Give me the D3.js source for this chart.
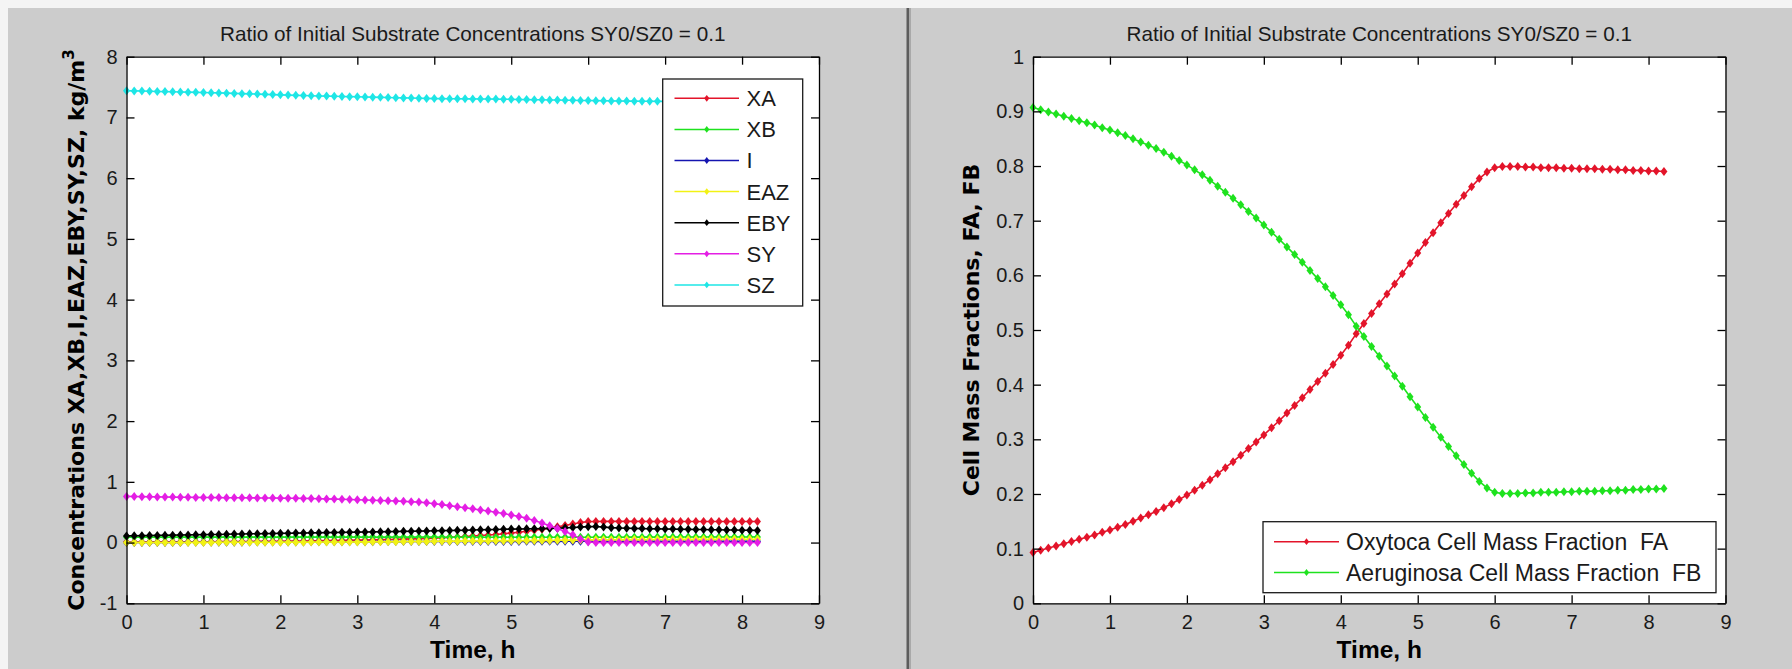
<!DOCTYPE html>
<html>
<head>
<meta charset="utf-8">
<script src="https://cdn.jsdelivr.net/npm/d3@7"></script>
<style>
  html, body { margin: 0; padding: 0; background: #cccccc; }
  svg { display: block; }
</style>
</head>
<body>
<svg id="fig" width="1792" height="669"></svg>
<script>
// ---- simulation output, sampled every 0.1 h ----
const time = [0,0.1,0.2,0.3,0.4,0.5,0.6,0.7,0.8,0.9,
  1,1.1,1.2,1.3,1.4,1.5,1.6,1.7,1.8,1.9,
  2,2.1,2.2,2.3,2.4,2.5,2.6,2.7,2.8,2.9,
  3,3.1,3.2,3.3,3.4,3.5,3.6,3.7,3.8,3.9,
  4,4.1,4.2,4.3,4.4,4.5,4.6,4.7,4.8,4.9,
  5,5.1,5.2,5.3,5.4,5.5,5.6,5.7,5.8,5.9,
  6,6.1,6.2,6.3,6.4,6.5,6.6,6.7,6.8,6.9,
  7,7.1,7.2,7.3,7.4,7.5,7.6,7.7,7.8,7.9,
  8,8.1,8.2];

// concentrations, kg/m3
const XA = [.0092,.0097,.0101,.0106,.0110,.0115,.0119,.0124,.0129,.0134,
  .0139,.0145,.0151,.0159,.0166,.0174,.0182,.0191,.0200,.0211,
  .0222,.0235,.0248,.0263,.0280,.0297,.0315,.0335,.0355,.0377,
  .0401,.0425,.0449,.0478,.0507,.0538,.0573,.0609,.0647,.0690,
  .0738,.0793,.0862,.0929,.0997,.1071,.1150,.1237,.1337,.1448,
  .1571,.1708,.1853,.2015,.2186,.2379,.2585,.2817,.3066,.3291,
  .3455,.3480,.3482,.3483,.3483,.3483,.3482,.3482,.3481,.3481,
  .3480,.3480,.3479,.3479,.3478,.3478,.3477,.3477,.3476,.3476,
  .3475,.3475,.3474];
const XB = [.0900,.0900,.0901,.0901,.0902,.0902,.0902,.0902,.0903,.0903,
  .0903,.0903,.0903,.0903,.0903,.0903,.0903,.0903,.0903,.0903,
  .0903,.0903,.0902,.0902,.0902,.0902,.0901,.0901,.0901,.0901,
  .0900,.0898,.0896,.0895,.0894,.0893,.0892,.0891,.0890,.0889,
  .0888,.0887,.0886,.0885,.0884,.0883,.0882,.0881,.0880,.0880,
  .0880,.0880,.0880,.0879,.0879,.0878,.0878,.0877,.0877,.0876,
  .0876,.0876,.0879,.0882,.0885,.0888,.0891,.0894,.0896,.0899,
  .0902,.0904,.0907,.0909,.0912,.0914,.0917,.0919,.0922,.0924,
  .0927,.0929,.0931];
const I = [.000,.000,.001,.001,.002,.002,.003,.003,.004,.004,
  .005,.005,.006,.006,.007,.007,.008,.008,.009,.009,
  .010,.010,.011,.011,.012,.012,.013,.013,.014,.014,
  .015,.015,.015,.016,.016,.016,.016,.017,.017,.017,
  .017,.017,.018,.018,.018,.018,.018,.019,.019,.019,
  .019,.019,.020,.020,.020,.020,.020,.021,.021,.021,
  .021,.021,.021,.021,.021,.021,.021,.021,.022,.022,
  .022,.022,.022,.022,.022,.022,.022,.022,.022,.022,
  .022,.022,.022];
const EAZ = [.000,.000,.000,.001,.001,.001,.002,.002,.002,.003,
  .003,.003,.004,.004,.004,.005,.005,.005,.006,.006,
  .006,.007,.007,.007,.008,.008,.009,.009,.010,.010,
  .011,.011,.012,.013,.014,.015,.016,.017,.018,.019,
  .020,.021,.022,.023,.024,.025,.026,.027,.028,.029,
  .030,.031,.032,.033,.034,.035,.037,.039,.041,.043,
  .045,.046,.047,.047,.048,.048,.049,.049,.050,.050,
  .051,.051,.052,.052,.052,.053,.053,.053,.054,.054,
  .054,.055,.055];
const EBY = [.110,.112,.114,.116,.118,.120,.122,.124,.126,.128,
  .130,.132,.134,.137,.140,.142,.144,.146,.148,.150,
  .152,.154,.156,.158,.160,.162,.164,.166,.168,.170,
  .172,.174,.176,.178,.180,.182,.185,.187,.189,.191,
  .194,.196,.198,.201,.204,.207,.210,.213,.216,.219,
  .222,.224,.226,.228,.230,.233,.237,.242,.248,.255,
  .262,.264,.255,.246,.240,.236,.233,.230,.228,.226,
  .224,.222,.220,.218,.216,.214,.212,.210,.208,.206,
  .204,.202,.200];
const SY = [.760,.758,.756,.754,.752,.750,.749,.747,.745,.744,
  .742,.741,.740,.739,.738,.737,.736,.735,.734,.733,
  .731,.730,.729,.727,.725,.722,.719,.716,.713,.709,
  .705,.700,.697,.693,.689,.684,.679,.673,.666,.655,
  .640,.625,.608,.590,.573,.555,.537,.519,.500,.478,
  .455,.430,.402,.365,.322,.278,.232,.183,.130,.060,
  .010,.000,.000,.000,.000,.000,.000,.000,.000,.000,
  .000,.000,.000,.000,.000,.000,.000,.000,.000,.000,
  .000,.000,.000];
const SZ = [7.440,7.437,7.434,7.431,7.428,7.425,7.422,7.419,7.416,7.413,
  7.410,7.407,7.404,7.400,7.396,7.392,7.388,7.384,7.380,7.376,
  7.372,7.368,7.364,7.360,7.357,7.354,7.351,7.348,7.345,7.342,
  7.340,7.337,7.334,7.331,7.328,7.325,7.322,7.319,7.316,7.313,
  7.310,7.309,7.308,7.307,7.306,7.305,7.304,7.303,7.302,7.300,
  7.298,7.296,7.294,7.292,7.290,7.288,7.286,7.284,7.282,7.280,
  7.278,7.276,7.274,7.272,7.270,7.269,7.268,7.267,7.266,7.265,
  7.264,7.263,7.262,7.261,7.260,7.259,7.258,7.257,7.256,7.255,
  7.254,7.253,7.252];

// cell mass fractions
const FA = [.093,.097,.101,.105,.109,.113,.117,.121,.125,.130,
  .134,.139,.144,.150,.156,.162,.168,.175,.182,.190,
  .198,.207,.216,.226,.237,.248,.259,.271,.283,.295,
  .308,.321,.334,.348,.362,.376,.391,.406,.421,.437,
  .454,.472,.493,.512,.530,.548,.566,.584,.603,.622,
  .641,.660,.678,.696,.713,.730,.746,.762,.777,.789,
  .797,.799,.799,.799,.798,.798,.797,.797,.797,.796,
  .796,.795,.795,.795,.794,.794,.793,.793,.792,.792,
  .791,.791,.790];
const FB = [.907,.903,.899,.895,.891,.887,.883,.879,.875,.870,
  .866,.861,.856,.850,.844,.838,.832,.825,.818,.810,
  .802,.793,.784,.774,.763,.752,.741,.729,.717,.705,
  .692,.679,.666,.652,.638,.624,.609,.594,.579,.563,
  .546,.528,.507,.488,.470,.452,.434,.416,.397,.378,
  .359,.340,.322,.304,.287,.270,.254,.238,.223,.211,
  .203,.201,.201,.201,.202,.202,.203,.203,.203,.204,
  .204,.205,.205,.205,.206,.206,.207,.207,.208,.208,
  .209,.209,.210];

// ---- labels and ticks ----
const titleText = "Ratio of Initial Substrate Concentrations SY0/SZ0 = 0.1";
const xLabelText = "Time, h";
const xTicks = [0,1,2,3,4,5,6,7,8,9];
const xTickLabels = ["0","1","2","3","4","5","6","7","8","9"];
const concTicks = [-1,0,1,2,3,4,5,6,7,8];
const concTickLabels = ["-1","0","1","2","3","4","5","6","7","8"];
const fracTicks = [0,0.1,0.2,0.3,0.4,0.5,0.6,0.7,0.8,0.9,1];
const fracTickLabels = ["0","0.1","0.2","0.3","0.4","0.5","0.6","0.7","0.8","0.9","1"];
const concNames = ["XA","XB","I","EAZ","EBY","SY","SZ"];
const concColors = ["#e3142a","#1ee21e","#1414b0","#f2f214","#000000","#e41ee4","#1ee6e6"];
const fracNames = ["Oxytoca Cell Mass Fraction  FA","Aeruginosa Cell Mass Fraction  FB"];
const fracColors = ["#e3142a","#1ee21e"];

// ---- figure layout ----
const W = 1792, H = 669;
const TOP = 56.7, BOTTOM = 603.3;
const SANS = "'Liberation Sans', Arial, Helvetica, sans-serif";
const WIDE_BOLD = "'DejaVu Sans', Verdana, sans-serif";

const svg = d3.select("#fig");

// window background, light frame edge and splitter between the two figures
svg.append("rect").attr("width", W).attr("height", H).attr("fill", "#cccccc");
svg.append("rect").attr("width", W).attr("height", 8).attr("fill", "#f4f4f4");
svg.append("rect").attr("width", 8).attr("height", H).attr("fill", "#f4f4f4");
svg.append("rect").attr("x", 906.5).attr("y", 8).attr("width", 2.5).attr("height", H - 8).attr("fill", "#5c5c5c");
svg.append("rect").attr("x", 909).attr("y", 8).attr("width", 2).attr("height", H - 8).attr("fill", "#a9a9a9");

function diamondPath(w, h) {
  return `M0,${-h}L${w},0L0,${h}L${-w},0Z`;
}

function drawPanel(cfg) {
  const g = svg.append("g");
  const x = d3.scaleLinear().domain([0, 9]).range([cfg.left, cfg.right]);
  const y = d3.scaleLinear().domain(cfg.yDomain).range([BOTTOM, TOP]);

  g.append("rect")
    .attr("x", cfg.left).attr("y", TOP)
    .attr("width", cfg.right - cfg.left).attr("height", BOTTOM - TOP)
    .attr("fill", "#ffffff");

  // series: line plus diamond markers, drawn in legend order
  cfg.series.forEach((values, k) => {
    const pts = time.map((t, i) => [t, values[i]]);
    const line = d3.line().x(d => x(d[0])).y(d => y(d[1]));
    g.append("path")
      .attr("d", line(pts))
      .attr("fill", "none")
      .attr("stroke", cfg.colors[k])
      .attr("stroke-width", 1.6)
      .attr("stroke-linejoin", "round");
    g.append("g").selectAll("path").data(pts).join("path")
      .attr("d", diamondPath(3.5, 4.5))
      .attr("transform", d => `translate(${x(d[0])},${y(d[1])})`)
      .attr("fill", cfg.colors[k]);
  });

  // box axes with inward ticks on all four sides
  const styleAxis = sel => {
    sel.attr("font-family", SANS).attr("font-size", 20);
    sel.select(".domain").attr("stroke", "#000").attr("stroke-width", 1.3);
    sel.selectAll(".tick line").attr("stroke", "#000").attr("stroke-width", 1.3);
    sel.selectAll(".tick text").attr("fill", "#1a1a1a");
  };
  g.append("g").attr("transform", `translate(0,${BOTTOM})`)
    .call(d3.axisBottom(x).tickValues(xTicks).tickFormat((d, i) => xTickLabels[i])
      .tickSizeInner(-8).tickSizeOuter(0).tickPadding(12))
    .call(styleAxis);
  g.append("g").attr("transform", `translate(0,${TOP})`)
    .call(d3.axisTop(x).tickValues(xTicks).tickFormat("")
      .tickSizeInner(-8).tickSizeOuter(0))
    .call(styleAxis);
  g.append("g").attr("transform", `translate(${cfg.left},0)`)
    .call(d3.axisLeft(y).tickValues(cfg.yTicks).tickFormat((d, i) => cfg.yTickLabels[i])
      .tickSizeInner(-8).tickSizeOuter(0).tickPadding(9))
    .call(styleAxis);
  g.append("g").attr("transform", `translate(${cfg.right},0)`)
    .call(d3.axisRight(y).tickValues(cfg.yTicks).tickFormat("")
      .tickSizeInner(-8).tickSizeOuter(0))
    .call(styleAxis);

  const cx = (cfg.left + cfg.right) / 2;
  const cy = (TOP + BOTTOM) / 2;

  g.append("text")
    .attr("x", cx).attr("y", 40.5)
    .attr("text-anchor", "middle")
    .attr("font-family", SANS).attr("font-size", 20.7)
    .attr("fill", "#1a1a1a")
    .text(titleText);

  g.append("text")
    .attr("x", cx).attr("y", 658)
    .attr("text-anchor", "middle")
    .attr("font-family", SANS).attr("font-size", 24.5).attr("font-weight", "bold")
    .attr("fill", "#000")
    .text(xLabelText);

  const yl = g.append("text")
    .attr("transform", `translate(${cfg.yLabelX},${cy}) rotate(-90)`)
    .attr("text-anchor", "middle")
    .attr("font-family", WIDE_BOLD).attr("font-size", 22).attr("font-weight", "bold")
    .attr("fill", "#000");
  yl.append("tspan").text(cfg.yLabel);
  if (cfg.yLabelSup) {
    yl.append("tspan").attr("font-size", 15).attr("dy", -10).text(cfg.yLabelSup);
  }

  // legend
  const L = cfg.legend;
  const lg = g.append("g");
  lg.append("rect")
    .attr("x", L.x).attr("y", L.y).attr("width", L.w).attr("height", L.h)
    .attr("fill", "#ffffff").attr("stroke", "#1a1a1a").attr("stroke-width", 1.3);
  cfg.names.forEach((name, k) => {
    const yy = L.firstRow + k * L.rowStep;
    lg.append("line")
      .attr("x1", L.lineX1).attr("x2", L.lineX2).attr("y1", yy).attr("y2", yy)
      .attr("stroke", cfg.colors[k]).attr("stroke-width", 1.5);
    lg.append("path")
      .attr("d", diamondPath(2.6, 3.4))
      .attr("transform", `translate(${(L.lineX1 + L.lineX2) / 2},${yy})`)
      .attr("fill", cfg.colors[k]);
    lg.append("text")
      .attr("x", L.textX).attr("y", yy + L.fontSize * 0.36)
      .attr("font-family", SANS).attr("font-size", L.fontSize)
      .attr("fill", "#1a1a1a")
      .style("white-space", "pre")
      .text(name);
  });
}

drawPanel({
  left: 126.5, right: 819,
  yDomain: [-1, 8],
  yTicks: concTicks, yTickLabels: concTickLabels,
  series: [XA, XB, I, EAZ, EBY, SY, SZ],
  colors: concColors, names: concNames,
  yLabel: "Concentrations XA,XB,I,EAZ,EBY,SY,SZ, kg/m", yLabelSup: "3",
  yLabelX: 84,
  legend: { x: 662.7, y: 79, w: 140, h: 227, firstRow: 98.3, rowStep: 31.1,
            lineX1: 674.5, lineX2: 739, textX: 746.5, fontSize: 22 }
});

drawPanel({
  left: 1033, right: 1725.5,
  yDomain: [0, 1],
  yTicks: fracTicks, yTickLabels: fracTickLabels,
  series: [FA, FB],
  colors: fracColors, names: fracNames,
  yLabel: "Cell Mass Fractions, FA, FB", yLabelSup: null,
  yLabelX: 979,
  legend: { x: 1263, y: 521.7, w: 453, h: 71, firstRow: 541.7, rowStep: 30.8,
            lineX1: 1274, lineX2: 1339, textX: 1346, fontSize: 23 }
});
</script>
</body>
</html>
